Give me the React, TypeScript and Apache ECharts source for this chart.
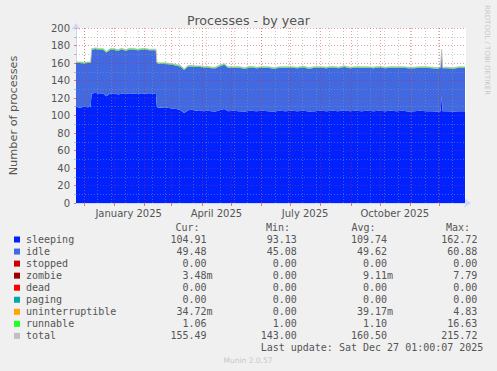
import React, { useEffect, useRef } from 'react';
import * as echarts from 'echarts';

// ---- data ----
const DATES = [
  '2024-11-23', '2024-11-27', '2024-12-01', '2024-12-05', '2024-12-08', '2024-12-09', '2024-12-13', '2024-12-17',
  '2024-12-21', '2024-12-24', '2024-12-28', '2025-01-01', '2025-01-05', '2025-01-09', '2025-01-13', '2025-01-17',
  '2025-01-21', '2025-01-25', '2025-01-29', '2025-02-02', '2025-02-06', '2025-02-10', '2025-02-13', '2025-02-14',
  '2025-02-18', '2025-02-22', '2025-02-26', '2025-03-02', '2025-03-06', '2025-03-10', '2025-03-14', '2025-03-18',
  '2025-03-22', '2025-03-26', '2025-03-30', '2025-04-03', '2025-04-07', '2025-04-11', '2025-04-15', '2025-04-19',
  '2025-04-24', '2025-04-28', '2025-05-03', '2025-05-09', '2025-05-15', '2025-05-21', '2025-05-27', '2025-06-02',
  '2025-06-08', '2025-06-14', '2025-06-20', '2025-06-26', '2025-07-02', '2025-07-08', '2025-07-14', '2025-07-20',
  '2025-07-26', '2025-08-01', '2025-08-07', '2025-08-13', '2025-08-19', '2025-08-25', '2025-08-31', '2025-09-06',
  '2025-09-12', '2025-09-18', '2025-09-24', '2025-09-30', '2025-10-06', '2025-10-12', '2025-10-18', '2025-10-24',
  '2025-10-30', '2025-11-05', '2025-11-11', '2025-11-17', '2025-11-23', '2025-11-29', '2025-12-02', '2025-12-03',
  '2025-12-04', '2025-12-09', '2025-12-15', '2025-12-21', '2025-12-27',
];
const SLEEPING = [
  110.0, 109.0, 110.0, 109.5, 110.0, 125.0, 126.0, 124.5,
  125.0, 122.0, 125.0, 125.5, 124.0, 125.0, 124.5, 125.5,
  125.0, 124.5, 125.5, 125.0, 124.5, 125.0, 124.5, 109.5,
  109.0, 109.5, 108.5, 108.0, 107.5, 106.0, 103.0, 106.0,
  106.5, 105.5, 106.0, 105.0, 105.5, 105.0, 104.5, 106.0,
  107.5, 105.0, 105.5, 105.0, 104.5, 105.5, 105.0, 105.5,
  105.0, 104.5, 105.5, 105.0, 105.5, 105.0, 105.5, 104.5,
  105.0, 105.5, 105.0, 105.5, 105.0, 106.0, 105.0, 105.5,
  105.0, 105.5, 105.0, 105.5, 105.0, 105.5, 105.0, 105.5,
  104.5, 105.0, 105.5, 105.0, 105.0, 104.5, 105.0, 122.0,
  105.0, 105.0, 104.5, 105.0, 104.9,
];
const IDLE = [
  50.0, 51.0, 49.5, 50.5, 50.0, 50.0, 50.0, 50.5,
  50.0, 50.0, 50.0, 49.5, 50.0, 50.5, 49.5, 50.0,
  50.5, 50.0, 49.5, 50.5, 50.0, 49.5, 50.0, 50.0,
  50.0, 49.5, 50.0, 50.0, 49.5, 50.0, 49.0, 50.0,
  49.5, 50.0, 49.5, 50.0, 49.5, 49.0, 49.5, 50.0,
  50.5, 49.5, 49.0, 49.5, 49.0, 49.5, 49.0, 49.0,
  49.5, 49.0, 49.0, 49.5, 49.0, 49.0, 49.5, 49.0,
  49.5, 49.0, 49.0, 49.5, 49.0, 49.5, 49.0, 49.0,
  49.5, 49.0, 49.0, 49.5, 49.0, 49.0, 49.5, 49.0,
  49.5, 49.0, 49.0, 49.5, 49.0, 49.0, 49.5, 52.0,
  49.0, 49.0, 49.0, 49.5, 49.5,
];
const RUNNABLE = [
  1.2, 1.1, 1.3, 1.1, 1.2, 1.3, 1.2, 1.4,
  1.2, 1.1, 1.2, 1.3, 1.2, 1.2, 1.1, 1.3,
  1.2, 1.2, 1.3, 1.2, 1.1, 1.2, 1.2, 1.2,
  1.1, 1.2, 1.2, 1.1, 1.2, 1.1, 1.2, 1.1,
  1.2, 1.1, 1.2, 1.1, 1.2, 1.1, 1.2, 1.3,
  1.2, 1.1, 1.1, 1.2, 1.1, 1.2, 1.1, 1.2,
  1.1, 1.2, 1.1, 1.1, 1.2, 1.1, 1.2, 1.1,
  1.2, 1.1, 1.2, 1.1, 1.1, 1.2, 1.1, 1.2,
  1.1, 1.1, 1.2, 1.1, 1.2, 1.1, 1.1, 1.2,
  1.1, 1.2, 1.1, 1.1, 1.2, 1.1, 1.2, 1.5,
  1.1, 1.1, 1.1, 1.1, 1.06,
];
const TOTAL = [
  161.2, 161.1, 160.8, 161.1, 161.2, 176.3, 177.2, 176.4,
  176.2, 173.1, 176.2, 176.3, 175.2, 176.7, 175.1, 176.8,
  176.7, 175.7, 176.3, 176.7, 175.6, 175.7, 175.7, 160.7,
  160.1, 160.2, 159.7, 159.1, 158.2, 157.1, 153.2, 157.1,
  157.2, 156.6, 156.7, 156.1, 156.2, 155.1, 155.2, 157.3,
  159.2, 155.6, 155.6, 155.7, 154.6, 156.2, 155.1, 155.7,
  155.6, 154.7, 155.6, 155.6, 155.7, 155.1, 156.2, 154.6,
  155.7, 155.6, 155.2, 156.1, 155.1, 156.7, 155.1, 155.7,
  155.6, 155.6, 155.2, 156.1, 155.2, 155.6, 155.6, 155.7,
  155.1, 155.2, 155.6, 155.6, 155.2, 154.6, 155.7, 175.5,
  155.1, 155.1, 154.6, 155.6, 155.5,
];

const X_MIN = '2024-11-23';
const X_MAX = '2025-12-28';
const X_LABEL_DATES = ['2025-01-16', '2025-04-16', '2025-07-16', '2025-10-16'];
const X_LABELS = ['January 2025', 'April 2025', 'July 2025', 'October 2025'];
const MONTH_STARTS = [
  '2024-12-01', '2025-01-01', '2025-02-01', '2025-03-01', '2025-04-01', '2025-05-01', '2025-06-01',
  '2025-07-01', '2025-08-01', '2025-09-01', '2025-10-01', '2025-11-01', '2025-12-01',
];
const MINOR_DATES = [
  '2024-12-01', '2024-12-15', '2024-12-29', '2025-01-12', '2025-01-26', '2025-02-09', '2025-02-23',
  '2025-03-09', '2025-03-23', '2025-04-06', '2025-04-20', '2025-05-04', '2025-05-18', '2025-06-01',
  '2025-06-15', '2025-06-29', '2025-07-13', '2025-07-27', '2025-08-10', '2025-08-24', '2025-09-07',
  '2025-09-21', '2025-10-05', '2025-10-19', '2025-11-02', '2025-11-16', '2025-11-30', '2025-12-14',
];
const Y_MAJOR = [20, 40, 60, 80, 100, 120, 140, 160, 180, 200];
const Y_MINOR = [10, 30, 50, 70, 90, 110, 130, 150, 170, 190];

const LEGEND_NAMES = ['sleeping', 'idle', 'stopped', 'zombie', 'dead', 'paging', 'uninterruptible', 'runnable', 'total'];
const LEGEND_COLORS = ['#0022ff', '#4169e1', '#cc0000', '#990000', '#ff0000', '#00aaaa', '#ffa500', '#22ff22', '#c0c0c0'];
const CUR = ['104.91', '49.48', '0.00', '3.48m', '0.00', '0.00', '34.72m', '1.06', '155.49'];
const MIN = ['93.13', '45.08', '0.00', '0.00', '0.00', '0.00', '0.00', '1.00', '143.00'];
const AVG = ['109.74', '49.62', '0.00', '9.11m', '0.00', '0.00', '39.17m', '1.10', '160.50'];
const MAX = ['162.72', '60.88', '0.00', '7.79', '0.00', '0.00', '4.83', '16.63', '215.72'];
const HEADERS = ['Cur:', 'Min:', 'Avg:', 'Max:'];
const LAST_UPDATE = 'Last update: Sat Dec 27 01:00:07 2025';

const ts = (d: string) => Date.UTC(+d.slice(0, 4), +d.slice(5, 7) - 1, +d.slice(8, 10));

export default function App() {
  const ref = useRef<HTMLDivElement>(null);
  useEffect(() => {
    document.body.style.margin = '0';
    const chart = echarts.init(ref.current!, null, { renderer: 'svg' });
    const FONT = 'DejaVu Sans';
    const MONO = 'DejaVu Sans Mono';
    const TXT = '#555555';
    const major = { color: 'rgba(220,40,40,0.45)', type: [1, 2] as any, width: 1 };
    const minor = { color: 'rgba(150,150,150,0.5)', type: [1, 2] as any, width: 1 };
    const pts = (arr: number[]) => DATES.map((d, i) => [ts(d), arr[i]]);
    const area = (name: string, arr: number[], color: string) => ({
      name, type: 'line', stack: 'p', xAxisIndex: 0, data: pts(arr),
      symbol: 'none', showSymbol: false,
      lineStyle: { width: 0 }, areaStyle: { color, opacity: 1 }, itemStyle: { color }, z: 2, silent: true,
    });

    const labelXs = X_LABEL_DATES.map(ts);
    const cols = [CUR, MIN, AVG, MAX];
    const colEdges = [206.5, 296.8, 387.1, 477.4];
    const headerX = [175.5, 266, 351.5, 446];
    const row0 = 239.5;
    const step = 12.05;
    const graphics: any[] = [];
    HEADERS.forEach((h, i) => graphics.push({
      type: 'text', x: headerX[i], y: 227.5,
      style: { text: h, font: `10px "${MONO}"`, fill: TXT, textAlign: 'left', textVerticalAlign: 'middle' },
    }));
    LEGEND_NAMES.forEach((n, r) => {
      const y = row0 + r * step;
      graphics.push({ type: 'rect', shape: { x: 14, y: y - 3, width: 6, height: 6 }, style: { fill: LEGEND_COLORS[r] } });
      graphics.push({ type: 'text', x: 26, y, style: { text: n, font: `10px "${MONO}"`, fill: TXT, textAlign: 'left', textVerticalAlign: 'middle' } });
      cols.forEach((c, ci) => {
        const v = c[r];
        const suf = v.endsWith('m');
        graphics.push({
          type: 'text', x: colEdges[ci] + (suf ? 6.02 : 0), y,
          style: { text: v, font: `10px "${MONO}"`, fill: TXT, textAlign: 'right', textVerticalAlign: 'middle' },
        });
      });
    });
    graphics.push({ type: 'text', x: 483.4, y: row0 + 9 * step,
      style: { text: LAST_UPDATE, font: `10px "${MONO}"`, fill: TXT, textAlign: 'right', textVerticalAlign: 'middle' } });
    graphics.push({ type: 'text', x: 248, y: 360,
      style: { text: 'Munin 2.0.57', font: `7.5px "${FONT}"`, fill: '#c8c8c8', textAlign: 'center', textVerticalAlign: 'middle' } });
    graphics.push({ type: 'text', x: 487, y: 5, rotation: -Math.PI / 2,
      style: { text: 'RRDTOOL / TOBI OETIKER', font: `7px "${FONT}"`, fill: '#c8c8c8', textAlign: 'left', textVerticalAlign: 'middle' } });

    const option: any = {
      animation: false,
      backgroundColor: '#f0f0f0',
      title: {
        text: 'Processes - by year', left: 'center', top: 9,
        textStyle: { fontFamily: FONT, fontSize: 12.7, fontWeight: 'normal', color: TXT },
      },
      grid: { left: 66, top: 28, width: 400, height: 175, show: true, backgroundColor: '#ffffff', borderWidth: 0, containLabel: false },
      xAxis: [
        {
          type: 'time', min: ts(X_MIN), max: ts(X_MAX), position: 'bottom',
          axisLine: { show: false }, axisTick: { show: false }, axisLabel: { show: false }, splitLine: { show: false },
        },
        {
          type: 'value', min: ts(X_MIN), max: ts(X_MAX), position: 'bottom', offset: 0,
          axisLine: { show: true, lineStyle: { color: '#cfd6f8', width: 1 }, symbol: ['none', 'arrow'], symbolSize: [7, 7], symbolOffset: [0, 5] },
          axisTick: { show: true, length: 3, customValues: MONTH_STARTS.map(ts), lineStyle: { color: 'rgba(220,40,40,0.6)' } },
          axisLabel: {
            customValues: labelXs, margin: 5, color: TXT, fontFamily: FONT, fontSize: 10,
            formatter: (v: number) => { const i = labelXs.indexOf(v); return i >= 0 ? X_LABELS[i] : ''; },
          },
          splitLine: { show: false },
        },
      ],
      yAxis: {
        type: 'value', min: 0, max: 200, interval: 20,
        name: 'Number of processes', nameLocation: 'middle', nameGap: 57, nameRotate: 90,
        nameTextStyle: { fontFamily: FONT, fontSize: 11.3, color: TXT },
        axisLine: { show: true, lineStyle: { color: '#cfd6f8', width: 1 }, symbol: ['none', 'arrow'], symbolSize: [7, 7], symbolOffset: [0, 5] },
        axisTick: { show: true, length: 2, lineStyle: { color: 'rgba(220,40,40,0.6)' } },
        minorTick: { show: true, splitNumber: 2, length: 2, lineStyle: { color: 'rgba(150,150,150,0.6)' } },
        axisLabel: { margin: 6, color: TXT, fontFamily: FONT, fontSize: 10 },
        splitLine: { show: false },
      },
      series: [
        area('sleeping', SLEEPING, '#0022ff'),
        area('idle', IDLE, '#4169e1'),
        area('runnable', RUNNABLE, '#22ff22'),
        {
          name: 'total', type: 'line', xAxisIndex: 0, data: pts(TOTAL),
          symbol: 'none', showSymbol: false, silent: true,
          lineStyle: { color: '#c0c0c0', width: 1 }, itemStyle: { color: '#c0c0c0' }, z: 5,
          markLine: {
            silent: true, symbol: 'none', label: { show: false }, animation: false,
            data: [
              ...MINOR_DATES.map((d) => ({ xAxis: ts(d), lineStyle: minor })),
              ...Y_MINOR.map((v) => ({ yAxis: v, lineStyle: minor })),
              ...MONTH_STARTS.map((d) => ({ xAxis: ts(d), lineStyle: major })),
              ...Y_MAJOR.map((v) => ({ yAxis: v, lineStyle: major })),
            ],
          },
        },
      ],
      graphic: graphics,
    };
    chart.setOption(option);
    return () => chart.dispose();
  }, []);
  return <div ref={ref} style={{ width: 497, height: 371 }} />;
}
